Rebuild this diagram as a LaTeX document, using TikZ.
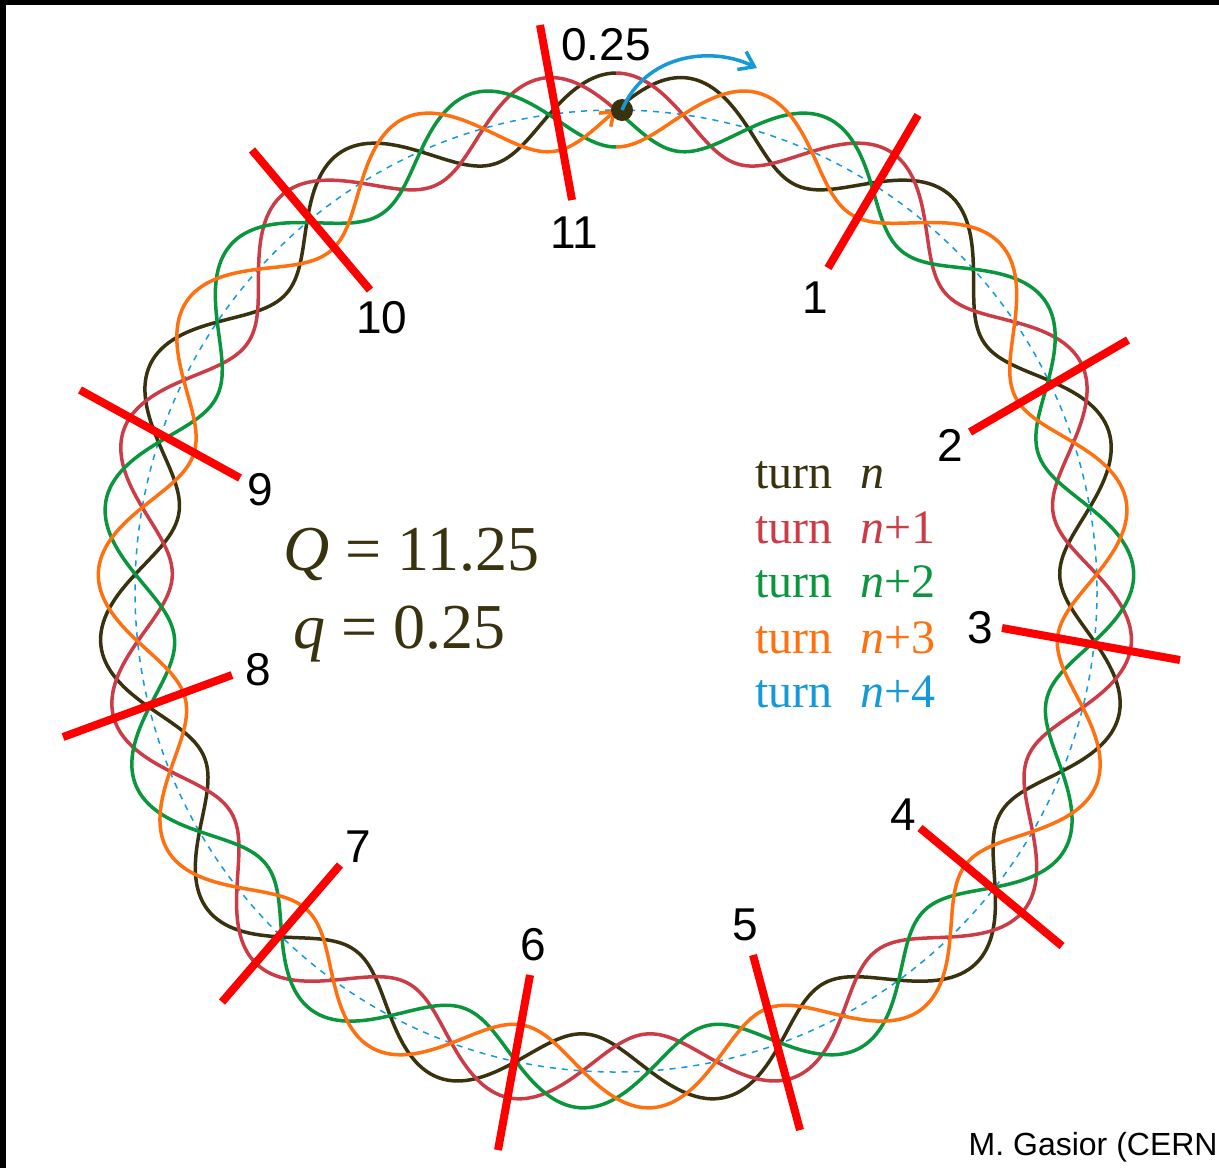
\documentclass[tikz,border=0pt]{standalone}
\usepackage{fontspec}
\setmainfont{Liberation Serif}
\setsansfont{Liberation Sans}
\usetikzlibrary{arrows.meta}
\definecolor{cn}{RGB}{56,50,14}
\definecolor{cr}{RGB}{204,60,70}
\definecolor{cg}{RGB}{10,150,60}
\definecolor{co}{RGB}{255,112,16}
\definecolor{cb}{RGB}{20,155,215}
\definecolor{cmark}{RGB}{255,0,0}
\begin{document}
\begin{tikzpicture}[x=0.5pt,y=-0.5pt,
  wave/.style={line width=1.75pt},
  markline/.style={cmark,line width=4pt},
  num/.style={font=\sffamily\fontsize{23}{27}\selectfont,inner sep=0pt},
  leg/.style={font=\fontsize{24}{28}\selectfont,inner sep=0pt,anchor=base west},
  big/.style={font=\fontsize{32}{36}\selectfont,inner sep=0pt,anchor=base west,text=cn}]
\useasboundingbox (0,0) rectangle (1219,1168);
\fill[white] (0,0) rectangle (1219,1168);
\fill[black] (0,0) rectangle (1219,5);
\fill[black] (0,0) rectangle (6,1168);
% reference orbit
\draw[cb,line width=0.75pt,dash pattern=on 3pt off 3pt] (616,591) circle[radius=481];
% four turns
\foreach \ph/\col in {0/cn,90/cr,180/cg}{
  \draw[wave,\col] plot[domain=0:360,samples=721,variable=\t]
    ({616+(481+37*sin(11.25*\t+\ph))*sin(\t)},{591-(481+37*sin(11.25*\t+\ph))*cos(\t)});
}
\draw[wave,co,-{Straight Barb[length=6pt,width=9pt]}] plot[domain=0:360,samples=721,variable=\t]
    ({616+(481+37*sin(11.25*\t+270))*sin(\t)},{591-(481+37*sin(11.25*\t+270))*cos(\t)});
% markers (inner end -- outer end)
\foreach \ax/\ay/\bx/\by in {828/268/918/115, 970/432/1128/340, 1002/628/1180/660,
    920/828/1062/946, 753/955/800/1130, 530/975/498/1150, 340/865/222/1002,
    232/675/63/737, 240/478/80/390, 370/290/252/150, 572/200/540/25}{
  \draw[markline] (\ax,\ay) -- (\bx,\by);
}
% particle and next turn
\node[circle,fill=cn,inner sep=0pt,minimum size=11pt] (dot) at (622,110) {};
\coordinate (nxt) at (757,68);
\draw[cb,line width=1.75pt,-{Straight Barb[length=7pt,width=10pt]}] (dot.center) .. controls (645,55) and (710,45) .. (nxt);
% labels
\node[num] (l025) at (606,45) {0.25};
\node[num] (l11) at (574,233) {11};
\node[num] (l1) at (815,298) {1};
\node[num] (l2) at (950,445) {2};
\node[num] (l3) at (980,628) {3};
\node[num] (l4) at (903,815) {4};
\node[num] (l5) at (745,925) {5};
\node[num] (l6) at (533,945) {6};
\node[num] (l7) at (358,847) {7};
\node[num] (l8) at (258,670) {8};
\node[num] (l9) at (260,490) {9};
\node[num] (l10) at (382,318) {10};
% legend
\node[leg,text=cn] (t0) at (755,488) {turn};
\node[leg,text=cn] (n0) at (860,488) {\textit{n}};
\node[leg,text=cr] (t1) at (755,543) {turn};
\node[leg,text=cr] (n1) at (860,543) {\textit{n}+1};
\node[leg,text=cg] (t2) at (755,597) {turn};
\node[leg,text=cg] (n2) at (860,597) {\textit{n}+2};
\node[leg,text=co] (t3) at (755,653) {turn};
\node[leg,text=co] (n3) at (860,653) {\textit{n}+3};
\node[leg,text=cb] (t4) at (755,707) {turn};
\node[leg,text=cb] (n4) at (860,707) {\textit{n}+4};
% tune
\node[big] (Qt) at (283,570) {\textit{Q} = 11.25};
\node[big] (qt) at (293,648) {\textit{q} = 0.25};
% credit
\node[font=\sffamily\fontsize{16}{19}\selectfont,inner sep=0pt,anchor=base east] (credit) at (1218,1155) {M. Gasior (CERN};
\end{tikzpicture}
\end{document}
